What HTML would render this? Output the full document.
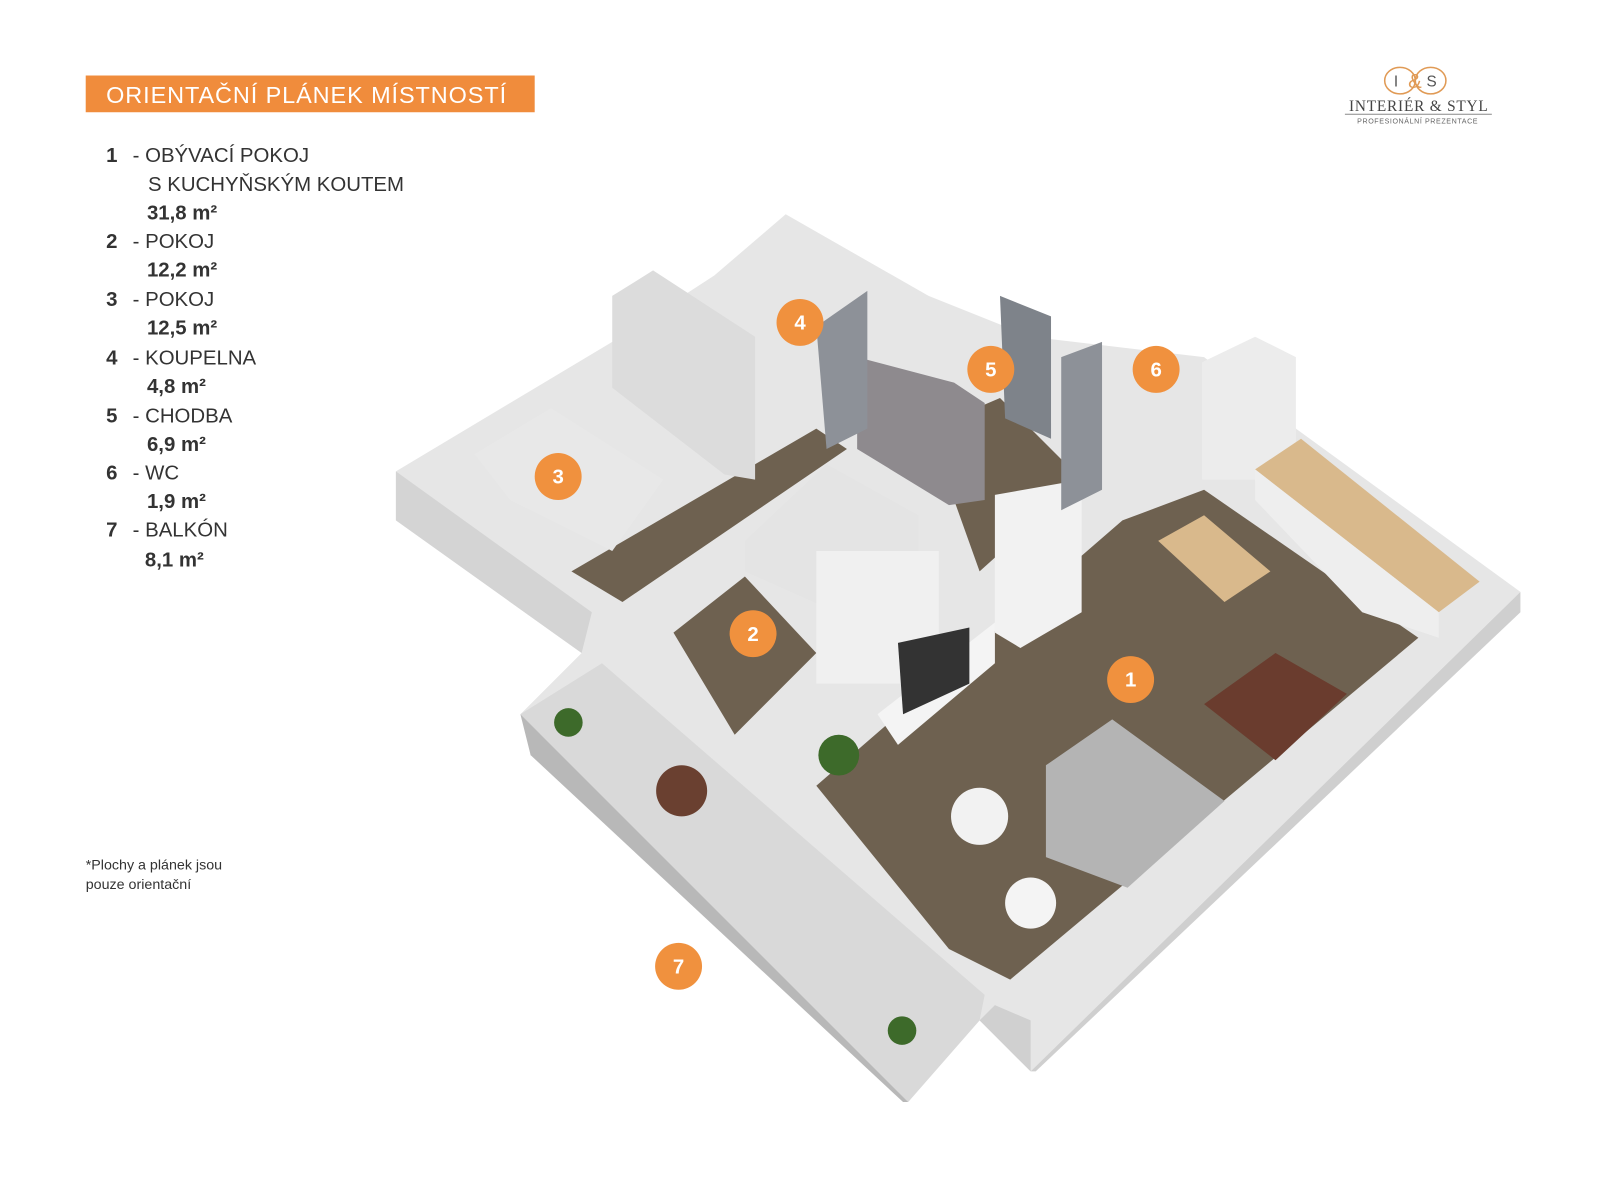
<!DOCTYPE html>
<html><head><meta charset="utf-8"><style>
html,body{margin:0;padding:0;background:#fff;}
svg{display:block}
text{font-family:"Liberation Sans",sans-serif;}
</style></head><body>
<svg width="1600" height="1200" viewBox="0 0 1568 1176" preserveAspectRatio="none" xmlns="http://www.w3.org/2000/svg">
<rect width="1568" height="1176" fill="#fff"/>
<!-- title -->
<rect x="84" y="74" width="440" height="36" fill="#f08c3c"/>
<text x="104" y="101" font-size="23" fill="#fff" textLength="392">ORIENTAČNÍ PLÁNEK MÍSTNOSTÍ</text>
<!-- logo -->
<ellipse cx="1372" cy="79" rx="15" ry="13" fill="none" stroke="#e09a55" stroke-width="1.5"/>
<ellipse cx="1402" cy="79" rx="15" ry="13" fill="none" stroke="#e09a55" stroke-width="1.5"/>
<text x="1366" y="85" font-size="15" font-family="Liberation Serif" fill="#555">I</text>
<text x="1380" y="86" font-size="20" font-family="Liberation Serif" fill="#e09a55">&amp;</text>
<text x="1398" y="85" font-size="15" font-family="Liberation Serif" fill="#555">S</text>
<text x="1322" y="109" font-size="15" style="font-family:'Liberation Serif',serif" fill="#444" textLength="136">INTERIÉR &amp; STYL</text>
<line x1="1318" y1="112" x2="1462" y2="112" stroke="#888" stroke-width="1"/>
<text x="1330" y="121" font-size="7" fill="#666" textLength="118">PROFESIONÁLNÍ PREZENTACE</text>
<!-- legend -->
<g font-size="20" fill="#333">
<text x="104" y="159" font-weight="bold">1</text><text x="130" y="159">- OBÝVACÍ POKOJ</text>
<text x="145" y="187">S KUCHYŇSKÝM KOUTEM</text>
<text x="144" y="215" font-weight="bold">31,8 m²</text>
<text x="104" y="243" font-weight="bold">2</text><text x="130" y="243">- POKOJ</text>
<text x="144" y="271" font-weight="bold">12,2 m²</text>
<text x="104" y="300" font-weight="bold">3</text><text x="130" y="300">- POKOJ</text>
<text x="144" y="328" font-weight="bold">12,5 m²</text>
<text x="104" y="357" font-weight="bold">4</text><text x="130" y="357">- KOUPELNA</text>
<text x="144" y="385" font-weight="bold">4,8 m²</text>
<text x="104" y="414" font-weight="bold">5</text><text x="130" y="414">- CHODBA</text>
<text x="144" y="442" font-weight="bold">6,9 m²</text>
<text x="104" y="470" font-weight="bold">6</text><text x="130" y="470">- WC</text>
<text x="144" y="498" font-weight="bold">1,9 m²</text>
<text x="104" y="526" font-weight="bold">7</text><text x="130" y="526">- BALKÓN</text>
<text x="142" y="555" font-weight="bold">8,1 m²</text>
</g>
<text x="84" y="852" font-size="14" fill="#333">*Plochy  a plánek jsou</text>
<text x="84" y="871" font-size="14" fill="#333">pouze orientační</text>
<!-- plan -->
<polygon points="388,462 600,335 700,270 770,210 910,290 1010,330 1180,350 1270,420 1490,580 1010,1050 960,1000 890,1080 510,700 570,640 388,510" fill="#e6e6e6"/>
<polygon points="388,462 388,510 570,640 580,600" fill="#d4d4d4"/>
<polygon points="1490,580 1490,600 1015,1050 1010,1050" fill="#cfcfcf"/>
<polygon points="960,1000 1010,1050 1010,1000 975,985" fill="#d0d0d0"/>
<!-- balcony -->
<polygon points="510,700 590,650 965,975 960,1000 890,1080" fill="#d9d9d9"/>
<polygon points="510,700 520,740 885,1080 890,1080" fill="#b8b8b8"/>
<!-- floors -->
<polygon points="800,770 1100,510 1180,480 1390,625 990,960 930,930" fill="#6e6150"/>
<polygon points="560,560 800,420 830,440 610,590" fill="#6e6150"/>
<polygon points="660,620 730,565 800,640 720,720" fill="#6e6150"/>
<polygon points="910,420 980,390 1060,470 960,560" fill="#6e6150"/>
<!-- walls/furniture -->
<polygon points="600,290 640,265 740,330 740,470 710,465 600,380" fill="#dcdcdc"/>
<polygon points="840,350 935,375 965,395 965,490 930,495 840,440" fill="#8e8a8e"/>
<polygon points="1178,355 1230,330 1270,350 1270,470 1178,470" fill="#ececec"/>
<polygon points="1230,460 1275,430 1450,570 1410,600" fill="#d9b98c"/>
<polygon points="1230,460 1410,600 1410,625 1335,600 1230,490" fill="#eeeeee"/>
<polygon points="1135,530 1180,505 1245,560 1200,590" fill="#d9b98c"/>
<polygon points="1025,750 1090,705 1200,785 1105,870 1025,840" fill="#b4b4b4"/>
<polygon points="730,530 810,455 900,505 900,545 820,600 730,560" fill="#e4e4e4"/>
<polygon points="800,540 920,540 920,670 800,670" fill="#f0f0f0"/>
<polygon points="465,445 540,400 650,470 600,540 500,490" fill="#e8e8e8"/>
<polygon points="1180,690 1250,640 1320,680 1250,745" fill="#6a3c2e"/>
<polygon points="975,485 1060,470 1060,600 1000,635 975,620" fill="#f2f2f2"/>
<polygon points="860,700 975,610 975,650 880,730" fill="#f4f4f4"/>
<polygon points="880,630 950,615 950,670 885,700" fill="#333"/>
<polygon points="800,320 850,285 850,420 810,440" fill="#8d9198"/>
<polygon points="980,290 1030,310 1030,430 985,410" fill="#7e838a"/>
<polygon points="1040,350 1080,335 1080,480 1040,500" fill="#8d9198"/>
<circle cx="960" cy="800" r="28" fill="#f2f2f2"/>
<circle cx="1010" cy="885" r="25" fill="#f4f4f4"/>
<circle cx="668" cy="775" r="25" fill="#6a4030"/>
<circle cx="822" cy="740" r="20" fill="#3d6a2a"/>
<circle cx="557" cy="708" r="14" fill="#3d6a2a"/>
<circle cx="884" cy="1010" r="14" fill="#3d6a2a"/>
<!-- markers -->
<g fill="#f0913e"><circle cx="784" cy="316" r="23"/><circle cx="971" cy="362" r="23"/><circle cx="1133" cy="362" r="23"/><circle cx="547" cy="467" r="23"/><circle cx="738" cy="621" r="23"/><circle cx="1108" cy="666" r="23"/><circle cx="665" cy="947" r="23"/></g>
<g fill="#fff" font-size="20" font-weight="bold" text-anchor="middle">
<text x="784" y="323">4</text><text x="971" y="369">5</text><text x="1133" y="369">6</text><text x="547" y="474">3</text><text x="738" y="628">2</text><text x="1108" y="673">1</text><text x="665" y="954">7</text></g>
</svg>
</body></html>
